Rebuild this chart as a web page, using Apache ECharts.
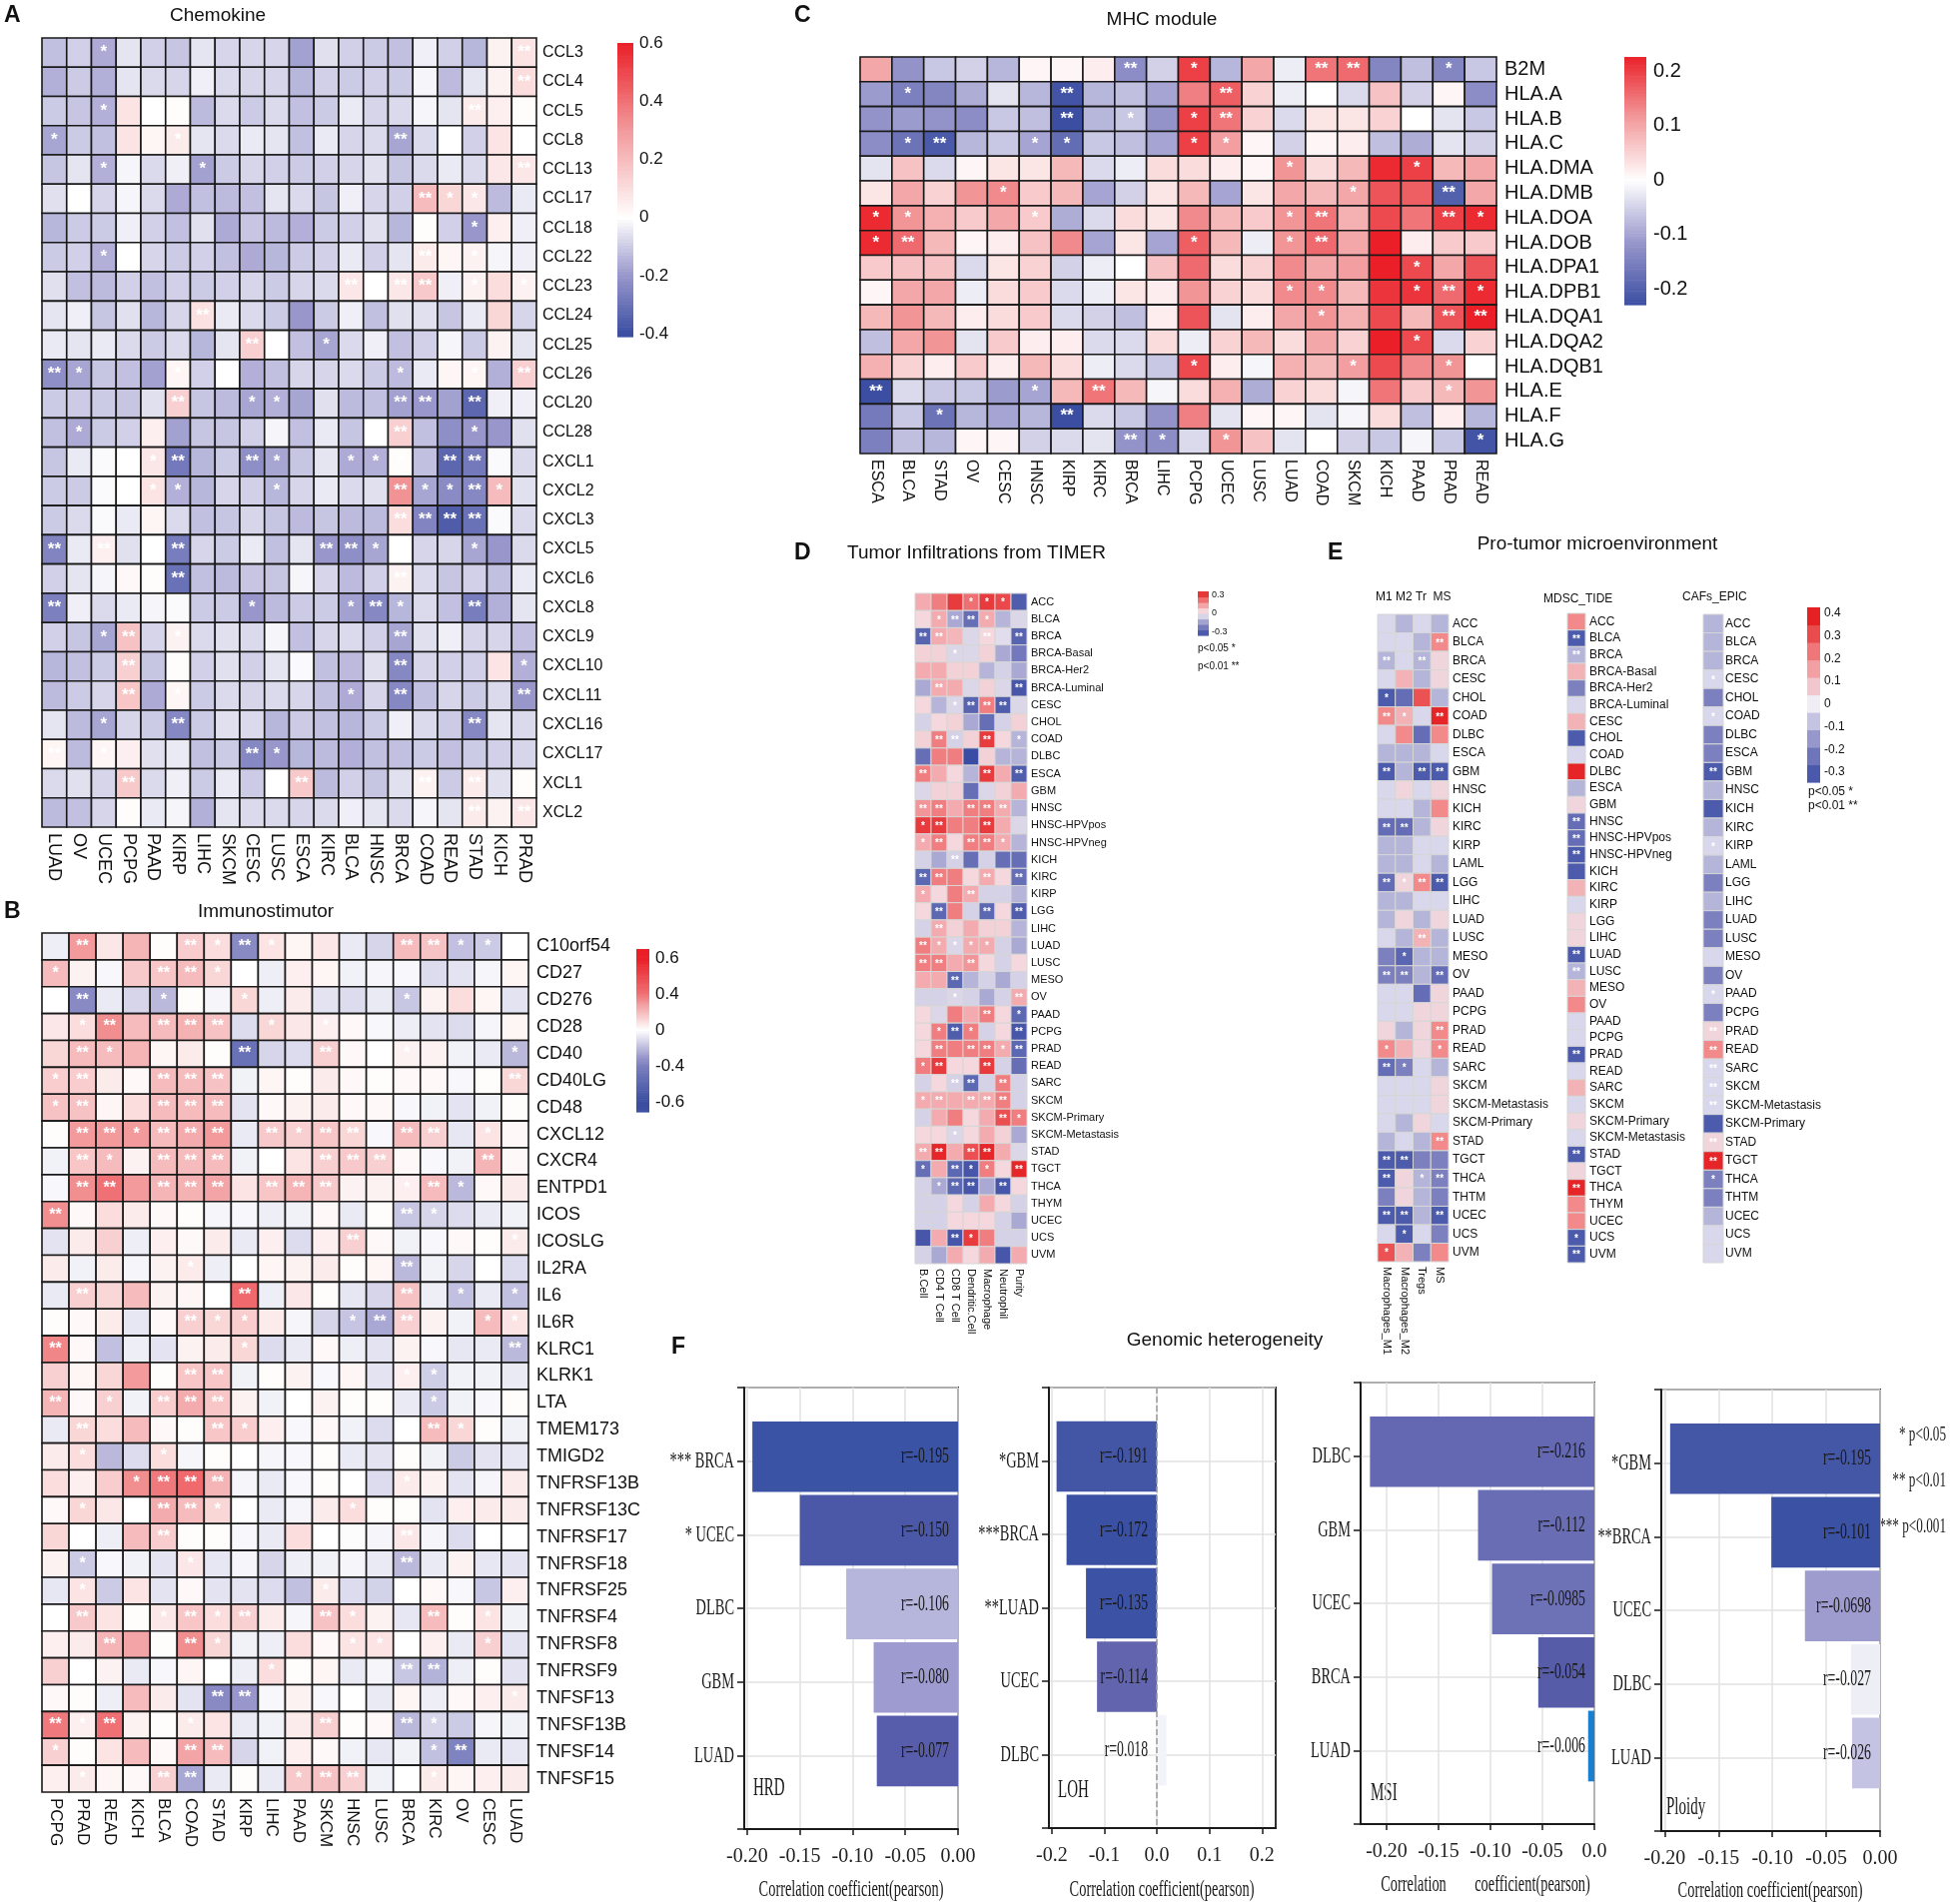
<!DOCTYPE html>
<html>
<head>
<meta charset="utf-8">
<script src="https://cdn.jsdelivr.net/npm/echarts@6/dist/echarts.min.js"></script>
<style>
html, body { margin: 0; padding: 0; background: #fff; }
#chart { width: 1955px; height: 1906px; }
</style>
</head>
<body>
<div id="chart"></div>
<script>
// ---------------- A: Chemokine ----------------
const chemoGenes = ['CCL3','CCL4','CCL5','CCL8','CCL13','CCL17','CCL18','CCL22','CCL23','CCL24','CCL25','CCL26','CCL20','CCL28',
    'CXCL1','CXCL2','CXCL3','CXCL5','CXCL6','CXCL8','CXCL9','CXCL10','CXCL11','CXCL16','CXCL17','XCL1','XCL2'];
const chemoCancers = ['LUAD','OV','UCEC','PCPG','PAAD','KIRP','LIHC','SKCM','CESC','LUSC','ESCA','KIRC','BLCA','HNSC','BRCA','COAD','READ','STAD','KICH','PRAD'];
const chemoR = [
    [-0.12,-0.09,-0.16,-0.05,-0.09,-0.11,-0.05,-0.08,-0.08,-0.08,-0.18,-0.06,-0.09,-0.10,-0.12,-0.03,-0.09,-0.14,0.04,0.08],
    [-0.15,-0.10,-0.15,-0.05,-0.07,-0.08,-0.03,-0.07,-0.08,-0.08,-0.14,-0.09,-0.10,-0.09,-0.10,-0.02,-0.13,-0.05,0.04,0.10],
    [-0.10,-0.11,-0.15,0.08,0.00,0.01,-0.13,-0.07,-0.10,-0.07,-0.12,-0.10,-0.04,-0.08,-0.07,-0.02,-0.05,0.06,0.05,0.01],
    [-0.17,-0.10,-0.12,0.08,0.03,0.06,-0.05,-0.07,-0.04,-0.05,-0.12,-0.04,-0.08,-0.07,-0.17,-0.07,0.00,-0.09,0.08,0.00],
    [-0.11,-0.05,-0.15,-0.02,-0.07,-0.03,-0.18,-0.10,-0.08,-0.09,-0.10,-0.09,-0.08,-0.06,-0.11,-0.07,-0.04,-0.07,0.07,0.07],
    [-0.06,0.00,-0.08,-0.02,-0.07,-0.16,-0.12,-0.13,-0.12,-0.05,-0.07,-0.11,-0.03,-0.08,-0.09,0.20,0.12,0.07,-0.13,-0.04],
    [-0.14,-0.10,-0.10,-0.03,-0.09,-0.12,-0.06,-0.16,-0.11,-0.13,-0.15,-0.10,-0.09,-0.06,-0.14,0.01,-0.09,-0.20,0.05,-0.03],
    [-0.10,-0.09,-0.15,0.00,-0.08,-0.10,-0.09,-0.12,-0.16,-0.14,-0.10,-0.09,-0.04,-0.09,-0.05,0.06,0.03,0.04,-0.02,-0.03],
    [-0.06,-0.12,-0.13,-0.09,-0.12,-0.09,-0.10,-0.09,-0.08,-0.10,-0.08,-0.07,0.07,0.00,0.07,0.16,-0.03,0.04,0.10,0.04],
    [-0.05,-0.03,-0.11,-0.06,-0.14,-0.08,0.09,-0.04,-0.07,-0.10,-0.20,-0.10,-0.03,-0.12,-0.06,-0.06,-0.11,-0.04,0.12,-0.08],
    [-0.04,-0.05,-0.04,-0.07,-0.10,-0.07,-0.14,-0.05,0.14,0.00,-0.12,-0.17,-0.07,-0.03,-0.12,-0.09,-0.02,-0.10,0.04,-0.05],
    [-0.22,-0.17,-0.11,-0.12,-0.18,0.03,-0.09,0.00,-0.15,-0.12,-0.08,-0.08,-0.07,-0.10,-0.13,-0.04,0.03,0.03,-0.15,0.14],
    [-0.10,-0.10,-0.10,-0.11,-0.06,0.14,-0.11,-0.13,-0.17,-0.15,-0.17,-0.06,-0.13,-0.12,-0.18,-0.20,-0.18,-0.33,-0.03,-0.03],
    [-0.12,-0.16,-0.10,-0.09,0.05,-0.18,-0.11,-0.11,-0.09,-0.02,-0.12,-0.04,-0.11,0.00,0.14,-0.12,-0.22,-0.20,-0.20,-0.06],
    [-0.11,-0.04,-0.01,0.00,0.07,-0.28,-0.14,-0.10,-0.22,-0.17,-0.11,-0.05,-0.16,-0.15,0.01,-0.12,-0.33,-0.28,-0.01,-0.07],
    [-0.10,-0.10,-0.01,0.00,0.08,-0.15,-0.14,-0.08,-0.09,-0.14,-0.08,-0.04,-0.07,-0.06,0.32,-0.17,-0.23,-0.24,0.20,-0.06],
    [-0.10,-0.07,-0.01,-0.04,0.03,-0.07,-0.12,-0.11,-0.08,-0.11,-0.13,-0.11,-0.13,-0.13,0.10,-0.25,-0.36,-0.30,-0.01,-0.07],
    [-0.25,-0.04,0.05,-0.06,0.00,-0.27,-0.08,-0.10,-0.04,-0.12,-0.05,-0.20,-0.22,-0.17,0.00,-0.08,-0.08,-0.17,-0.20,-0.07],
    [-0.09,-0.05,-0.02,0.02,0.01,-0.30,-0.12,-0.13,-0.11,-0.11,-0.02,-0.08,-0.13,-0.09,0.04,-0.07,-0.11,-0.09,-0.12,-0.04],
    [-0.26,-0.03,-0.07,-0.04,-0.02,-0.01,-0.10,-0.10,-0.20,-0.13,-0.10,-0.10,-0.18,-0.24,-0.14,-0.07,-0.12,-0.27,-0.15,-0.05],
    [-0.09,-0.11,-0.17,0.18,-0.08,0.04,-0.07,-0.06,-0.07,-0.02,-0.12,-0.08,-0.07,-0.09,-0.17,-0.06,-0.03,-0.08,-0.08,-0.12],
    [-0.14,-0.12,-0.10,0.14,-0.11,0.01,-0.09,-0.06,-0.09,-0.05,-0.01,-0.12,-0.13,-0.06,-0.24,-0.08,-0.09,-0.09,0.08,-0.15],
    [-0.13,-0.10,-0.08,0.17,-0.16,0.03,-0.10,-0.07,-0.08,-0.07,-0.08,-0.12,-0.16,-0.08,-0.24,-0.12,-0.08,-0.10,-0.07,-0.20],
    [-0.05,-0.13,-0.17,-0.08,-0.10,-0.24,-0.10,-0.06,-0.07,-0.14,-0.10,-0.12,-0.14,-0.10,-0.03,-0.07,-0.10,-0.24,-0.05,-0.07],
    [0.03,-0.13,0.03,0.05,-0.06,-0.04,-0.12,-0.10,-0.24,-0.20,-0.14,-0.13,-0.15,-0.12,-0.12,-0.10,-0.12,-0.10,-0.09,-0.08],
    [-0.07,-0.06,-0.08,0.16,-0.07,-0.03,-0.10,-0.04,-0.10,0.00,0.16,-0.13,-0.09,-0.11,-0.06,0.04,-0.10,0.06,-0.06,0.01],
    [-0.13,-0.12,-0.08,0.01,-0.04,-0.02,-0.15,-0.05,-0.07,-0.07,-0.08,-0.07,-0.03,-0.05,-0.07,-0.02,-0.05,0.06,0.04,0.07]
];
// '.' none, '1' = *, '2' = **
const chemoSig = [
    '..1................2', '...................2', '..1..............2..', '1....1........2.....',
    '..1...1............2', '...............211..', '.................1..', '..1............2.1..',
    '............2.22.1.1', '......2.............', '........2..1........', '21...1........1..1.2',
    '.....2..11....22.2..', '.1............2..1..', '....12..21..111.22..', '....11...1....21121.',
    '..............2222..', '2.2..2.....221...1..', '.....2........2.....', '2.......1...121..2..',
    '..12.1........2.....', '...2..........2....1', '...2.1......1.2....2', '..1..2...........2..',
    '2.1.....21..........', '...2......2....2.2..', '.................2.2'
];
const chemoTicks = [-0.4, -0.2, 0, 0.2, 0.4, 0.6];

// ---------------- B: Immunostimulator ----------------
const immunoGenes = ['C10orf54','CD27','CD276','CD28','CD40','CD40LG','CD48','CXCL12','CXCR4','ENTPD1','ICOS','ICOSLG','IL2RA','IL6','IL6R',
    'KLRC1','KLRK1','LTA','TMEM173','TMIGD2','TNFRSF13B','TNFRSF13C','TNFRSF17','TNFRSF18','TNFRSF25','TNFRSF4','TNFRSF8','TNFRSF9',
    'TNFSF13','TNFSF13B','TNFSF14','TNFSF15'];
const immunoCancers = ['PCPG','PRAD','READ','KICH','BLCA','COAD','STAD','KIRP','LIHC','PAAD','SKCM','HNSC','LUSC','BRCA','KIRC','OV','CESC','LUAD'];
const immunoR = [
    [-0.05,0.30,0.07,0.22,0.01,0.15,0.10,-0.35,0.08,0.03,0.07,-0.06,-0.12,0.20,0.18,-0.18,-0.15,0.00],
    [0.20,0.04,-0.02,0.16,0.17,0.20,0.12,0.00,-0.05,0.05,0.03,-0.04,-0.03,-0.02,-0.10,-0.08,-0.03,0.03],
    [0.00,-0.35,-0.06,-0.12,-0.20,0.01,-0.03,0.12,-0.05,0.06,-0.08,-0.10,-0.06,-0.16,0.04,0.10,0.03,-0.08],
    [0.07,0.10,0.33,0.20,0.20,0.23,0.18,-0.10,0.12,0.07,0.05,0.02,-0.02,-0.05,-0.08,-0.10,-0.03,0.03],
    [0.12,0.20,0.20,0.22,0.03,0.06,0.01,-0.45,-0.12,-0.10,0.14,0.02,0.00,0.04,0.04,-0.04,-0.06,-0.20],
    [0.15,0.15,0.06,0.02,0.20,0.20,0.18,-0.04,0.03,0.01,0.06,0.02,0.01,0.02,0.02,-0.02,0.01,0.12],
    [0.18,0.18,0.03,0.10,0.20,0.20,0.20,-0.08,0.02,0.04,0.06,0.02,0.02,-0.02,-0.04,-0.08,-0.04,0.01],
    [0.01,0.30,0.30,0.30,0.20,0.25,0.30,-0.06,0.16,0.14,0.17,0.12,-0.02,0.20,0.14,-0.07,0.08,0.02],
    [-0.04,0.17,0.20,0.04,0.20,0.20,0.20,-0.04,0.00,0.08,0.14,0.16,0.14,0.02,-0.02,-0.04,0.22,0.02],
    [-0.02,0.33,0.40,0.30,0.22,0.23,0.27,0.08,0.17,0.22,0.16,0.04,0.04,0.05,0.20,-0.20,0.02,0.06],
    [0.33,0.02,0.10,0.06,0.02,0.01,-0.03,-0.02,-0.05,-0.04,0.02,-0.06,0.01,-0.16,-0.12,-0.10,-0.06,-0.04],
    [-0.08,0.06,0.14,-0.05,0.05,0.02,0.06,-0.06,0.05,-0.10,0.05,0.14,0.02,-0.04,-0.02,0.02,0.01,0.06],
    [0.06,-0.04,0.06,-0.03,0.04,0.06,-0.05,0.00,0.03,0.04,0.06,0.01,0.03,-0.20,-0.04,-0.12,0.00,-0.10],
    [-0.06,0.14,0.12,0.20,0.04,0.03,0.00,0.42,-0.05,0.07,0.01,-0.07,-0.12,0.18,-0.05,-0.18,-0.06,-0.18],
    [0.01,0.02,0.06,-0.07,0.02,0.14,0.12,0.15,0.06,-0.03,-0.12,-0.17,-0.25,0.14,0.04,-0.04,0.20,0.08],
    [0.35,0.02,-0.18,-0.05,-0.08,0.04,0.06,0.12,-0.10,-0.06,0.02,-0.05,-0.08,0.04,-0.02,-0.07,-0.06,-0.20],
    [0.14,0.03,0.12,0.30,0.01,0.17,0.17,-0.04,0.01,0.04,-0.02,0.03,-0.08,0.05,-0.14,-0.04,-0.04,-0.06],
    [0.22,0.02,0.14,-0.04,0.15,0.25,0.17,0.04,-0.04,0.00,0.04,0.01,0.01,-0.06,-0.15,-0.04,-0.02,0.01],
    [-0.06,0.12,0.10,0.20,0.02,0.01,0.17,0.15,0.05,-0.02,0.02,-0.04,-0.10,0.00,0.20,0.12,0.01,-0.04],
    [0.06,0.10,-0.20,-0.10,0.10,-0.03,0.01,0.00,-0.03,-0.02,0.01,-0.06,-0.08,0.01,-0.04,-0.15,-0.08,-0.07],
    [0.10,0.05,0.15,0.33,0.38,0.42,0.22,-0.03,-0.06,-0.02,0.01,0.00,-0.10,0.06,0.04,-0.08,-0.03,0.06],
    [0.02,0.12,0.07,0.00,0.25,0.20,0.12,0.00,-0.06,-0.03,0.06,0.10,0.01,0.01,-0.08,0.05,0.06,0.06],
    [0.12,0.00,-0.05,0.20,0.15,0.01,0.01,-0.02,-0.06,0.10,0.00,-0.01,-0.03,0.07,-0.03,-0.10,0.00,0.00],
    [0.04,-0.15,-0.02,-0.04,-0.08,0.07,-0.07,-0.03,-0.12,-0.05,-0.04,-0.03,-0.06,-0.20,-0.06,0.04,-0.07,-0.08],
    [-0.07,0.08,-0.15,0.08,-0.08,0.02,-0.08,-0.08,-0.10,-0.18,0.06,-0.10,-0.13,0.00,0.02,-0.02,-0.16,0.05],
    [0.00,0.16,0.08,0.01,0.07,0.17,0.10,0.14,0.06,-0.03,0.18,0.10,0.04,-0.07,0.20,0.01,0.08,-0.04],
    [0.05,0.06,0.22,0.27,0.01,0.33,0.12,-0.04,-0.05,0.10,0.02,0.08,0.08,0.00,0.05,-0.06,0.14,-0.08],
    [0.14,0.00,0.04,-0.06,-0.02,0.03,0.00,-0.05,0.10,0.01,0.03,-0.06,-0.03,-0.16,-0.22,-0.05,0.01,-0.08],
    [0.02,0.01,-0.05,0.20,0.06,-0.08,-0.35,-0.30,-0.02,0.04,-0.02,0.00,-0.06,0.03,-0.05,0.02,0.05,0.06],
    [0.38,0.05,0.40,0.04,0.01,0.06,0.08,-0.06,-0.04,0.06,0.14,0.01,0.02,-0.20,-0.12,-0.15,-0.03,-0.04],
    [0.14,0.01,0.08,0.20,0.02,0.27,0.20,-0.12,-0.04,0.05,0.02,-0.04,-0.07,-0.04,-0.18,-0.38,-0.06,-0.07],
    [0.05,0.06,0.03,0.02,0.14,-0.25,-0.06,0.01,-0.06,0.16,0.18,0.14,-0.04,0.00,0.06,0.03,0.05,0.06]
];
const immunoSig = [
    '.2...2121....2211.', '1...221...........', '.2..1..1.....1....', '.12.222.1.1.......',
    '.21....2..2..1...1', '12..222..........2', '12..222...........', '.221222.2122.22.1.',
    '.21.222...222...2.', '.22.222.222..121..', '2............21...', '...........2.....1',
    '.....1.......2....', '.2.....2.....2.1.1', '.....211...122..11', '2......1.........2',
    '.....22......11...', '2.1.222.......1...', '.2....21......21..', '.1..1.............',
    '...1222......1....', '.1..221....1......', '....2........2....', '.1...1.......2....',
    '.1........1.......', '.2..1212..21..2.1.', '..2..21....11...1.', '........1....22...',
    '......22.........1', '212..1....2..21...', '1....22.......12..', '.1..22...122..1...'
];
const immunoTicks = ['-0.6', '-0.4', '0', '0.4', '0.6'];
const immunoTickValues = [-0.6, -0.4, 0, 0.4, 0.6];

// ---------------- C: MHC module ----------------
const mhcGenes = ['B2M','HLA.A','HLA.B','HLA.C','HLA.DMA','HLA.DMB','HLA.DOA','HLA.DOB','HLA.DPA1','HLA.DPB1','HLA.DQA1','HLA.DQA2','HLA.DQB1','HLA.E','HLA.F','HLA.G'];
const mhcCancers = ['ESCA','BLCA','STAD','OV','CESC','HNSC','KIRP','KIRC','BRCA','LIHC','PCPG','UCEC','LUSC','LUAD','COAD','SKCM','KICH','PAAD','PRAD','READ'];
const mhcR = [
    [0.10,-0.12,-0.06,-0.05,-0.08,0.01,0.01,0.02,-0.13,-0.05,0.20,-0.08,0.10,-0.02,0.15,0.16,-0.14,-0.07,-0.14,-0.06],
    [-0.11,-0.15,-0.14,-0.09,-0.03,-0.08,-0.22,-0.08,-0.07,-0.10,0.14,0.17,0.05,-0.02,0.00,-0.04,0.07,-0.05,0.01,-0.13],
    [-0.12,-0.11,-0.12,-0.13,-0.06,-0.07,-0.24,-0.08,-0.06,-0.12,0.20,0.15,0.05,-0.04,0.03,0.03,0.05,0.00,-0.03,-0.06],
    [-0.13,-0.17,-0.21,-0.08,-0.06,-0.10,-0.18,-0.06,-0.07,-0.10,0.20,0.11,0.01,-0.05,0.01,0.02,-0.07,-0.09,-0.03,-0.05],
    [-0.03,0.07,-0.04,0.01,0.03,0.03,0.08,-0.04,-0.02,0.04,0.04,0.02,0.01,0.12,0.04,0.08,0.22,0.20,0.08,0.10],
    [0.03,0.10,0.05,0.12,0.13,0.06,0.08,-0.10,-0.05,0.03,0.08,-0.10,0.03,0.10,0.08,0.10,0.18,0.17,-0.20,0.10],
    [0.22,0.12,0.09,0.06,0.10,0.06,-0.09,-0.04,0.04,0.03,0.13,0.08,0.06,0.12,0.15,0.09,0.19,0.15,0.20,0.22],
    [0.22,0.16,0.08,0.01,0.02,0.07,0.13,-0.10,0.03,-0.10,0.17,0.08,-0.02,0.12,0.16,0.10,0.23,0.02,0.06,0.06],
    [0.06,0.07,0.07,-0.04,0.03,0.05,-0.05,-0.02,0.00,0.07,0.16,0.04,0.05,0.13,0.10,0.11,0.23,0.19,0.10,0.18],
    [0.01,0.10,0.10,-0.02,0.04,0.06,-0.04,-0.02,0.03,0.02,0.12,0.05,0.04,0.13,0.13,0.08,0.21,0.21,0.16,0.22],
    [0.08,0.12,0.08,0.02,0.04,0.06,-0.04,-0.05,-0.07,0.02,0.18,-0.03,0.02,0.10,0.12,0.09,0.19,0.08,0.18,0.23],
    [-0.07,0.10,0.12,-0.03,0.06,0.02,0.02,-0.04,-0.04,0.04,-0.02,0.05,0.08,0.04,0.10,0.05,0.23,0.19,-0.04,0.05],
    [0.09,0.05,0.02,0.06,0.02,0.08,0.04,-0.02,-0.04,-0.06,0.19,0.02,-0.01,0.09,0.08,0.11,0.19,0.13,0.12,0.00],
    [-0.24,-0.04,-0.06,-0.06,-0.11,-0.10,0.08,0.15,0.08,-0.01,0.04,0.09,-0.09,0.05,0.04,-0.01,0.15,0.06,0.08,0.12],
    [-0.16,-0.06,-0.17,-0.08,-0.10,-0.08,-0.24,-0.04,-0.06,-0.12,0.14,-0.03,0.01,0.01,-0.03,-0.01,0.04,-0.07,0.02,-0.08],
    [-0.15,-0.07,-0.08,0.01,0.01,-0.05,-0.04,-0.03,-0.12,-0.13,-0.04,0.12,0.07,-0.03,0.00,-0.05,-0.06,-0.01,-0.06,-0.22]
];
const mhcSig = [
    '........2.1...22..1.', '.1....2....2........', '......2.1.12........', '.12..11...11........',
    '.............1...1..', '....1..........1..2.', '11...1.......12...21', '12........1..12.....',
    '.................1..', '.............11..121', '..............1...22', '.................1..',
    '..........1....1..1.', '2....1.2..........1.', '..1...2.............', '........21.1.......1'
];
const mhcTicks = [-0.2, -0.1, 0, 0.1, 0.2];

// ---------------- D: TIMER ----------------
const timerCancers = ['ACC','BLCA','BRCA','BRCA-Basal','BRCA-Her2','BRCA-Luminal','CESC','CHOL','COAD','DLBC','ESCA','GBM','HNSC',
    'HNSC-HPVpos','HNSC-HPVneg','KICH','KIRC','KIRP','LGG','LIHC','LUAD','LUSC','MESO','OV','PAAD','PCPG','PRAD','READ','SARC',
    'SKCM','SKCM-Primary','SKCM-Metastasis','STAD','TGCT','THCA','THYM','UCEC','UCS','UVM'];
const timerCells = ['B.Cell','CD4 T Cell','CD8 T Cell','Dendritic.Cell','Macrophage','Neutrophil','Purity'];
const timerR = [
    [0.12,0.20,0.30,0.22,0.30,0.28,-0.30], [0.04,0.12,-0.12,-0.25,0.12,-0.10,-0.04], [-0.28,0.12,0.10,-0.04,0.04,-0.03,-0.28],
    [0.05,0.05,-0.04,-0.04,0.05,-0.12,-0.22], [0.12,0.12,0.05,0.05,-0.10,-0.05,-0.12], [-0.12,0.12,0.12,-0.04,0.05,-0.04,-0.32],
    [0.04,-0.10,-0.04,-0.28,0.20,-0.30,-0.04], [-0.05,0.04,0.05,-0.12,-0.25,-0.05,0.05], [0.05,0.20,-0.05,0.05,0.30,0.04,-0.10],
    [-0.25,0.20,0.20,-0.35,0.05,-0.10,-0.10], [0.20,0.12,0.04,-0.10,0.30,0.12,-0.30], [-0.04,0.05,0.05,-0.25,-0.04,0.05,0.12],
    [0.16,0.20,0.12,0.20,0.20,0.12,-0.10], [0.30,0.30,0.20,0.20,0.30,0.12,-0.04], [0.12,0.20,0.04,0.20,0.20,0.12,-0.10],
    [-0.05,-0.12,-0.05,-0.25,-0.05,-0.25,-0.25], [-0.27,0.20,0.20,0.04,0.12,0.04,-0.25], [0.12,0.04,0.20,0.12,-0.05,-0.05,-0.10],
    [0.04,-0.27,0.20,-0.05,-0.27,0.04,-0.30], [-0.05,0.12,0.05,0.12,0.05,0.05,-0.10], [0.20,0.12,-0.04,0.12,0.12,-0.05,-0.12],
    [0.20,0.20,0.12,0.16,0.04,-0.05,0.04], [0.12,0.12,-0.27,-0.10,-0.05,-0.12,-0.05], [-0.05,-0.05,-0.04,-0.05,-0.12,-0.05,0.12],
    [0.04,-0.04,0.20,0.12,0.20,0.04,-0.27], [0.04,0.20,-0.30,0.20,-0.05,0.04,-0.32], [0.04,0.20,0.20,0.20,0.20,0.12,-0.27],
    [0.20,0.30,0.04,0.04,0.30,-0.05,-0.25], [-0.05,0.04,-0.05,-0.27,-0.05,0.20,-0.05], [0.12,0.12,0.12,0.12,0.12,0.20,-0.05],
    [-0.05,0.12,0.20,0.04,0.12,0.27,0.20], [0.04,0.04,-0.04,0.04,0.12,0.05,-0.12], [0.12,0.33,0.12,0.27,0.33,0.12,-0.04],
    [-0.25,0.12,-0.27,-0.32,0.20,0.04,0.33], [-0.05,-0.12,-0.27,-0.32,-0.12,-0.32,0.04], [-0.05,-0.05,0.04,-0.05,0.12,0.04,-0.05],
    [-0.05,-0.05,0.04,0.04,0.04,-0.05,-0.12], [-0.32,0.12,-0.32,0.30,0.20,-0.05,-0.05], [-0.05,-0.12,0.12,0.04,0.12,-0.32,0.12]
];
const timerSig = [
    '...111.', '.1221..', '22..2.2', '..1....', '.......', '.2....2', '..1222.', '.......', '.22.2.1', '.......',
    '2...2.2', '.......', '22.222.', '12..2..', '12.221.', '..2....', '22..2.2', '1..2...', '.2..2.2', '.2.....',
    '21111..', '22.2...', '..2....', '..1...2', '....2.1', '.121..2', '.2.2212', '12..2..', '..22.2.', '12.222.',
    '.....21', '..1....', '22.22..', '1.211.2', '.122.2.', '.......', '.......', '..21...', '.......'
];
const timerTicks = [-0.3, 0, 0.3];

// ---------------- E: Pro-tumor microenvironment ----------------
const proCancers = ['ACC','BLCA','BRCA','CESC','CHOL','COAD','DLBC','ESCA','GBM','HNSC','KICH','KIRC','KIRP','LAML','LGG','LIHC',
    'LUAD','LUSC','MESO','OV','PAAD','PCPG','PRAD','READ','SARC','SKCM','SKCM-Metastasis','SKCM-Primary','STAD','TGCT','THCA',
    'THTM','UCEC','UCS','UVM'];
const proCells = ['Macrophages_M1','Macrophages_M2','Tregs','MS'];
const proR = [
    [-0.04,-0.10,-0.04,-0.10], [-0.04,-0.04,-0.10,0.20], [-0.10,-0.04,-0.10,0.05], [-0.04,0.12,-0.10,0.05],
    [-0.30,-0.25,0.30,-0.10], [0.20,0.12,-0.04,0.38], [-0.04,0.20,-0.25,0.20], [-0.10,-0.10,-0.10,-0.04],
    [-0.30,-0.10,-0.30,-0.30], [-0.04,0.05,-0.04,0.05], [-0.04,-0.04,-0.10,0.20], [-0.25,-0.25,-0.10,0.05],
    [-0.10,-0.10,-0.04,-0.04], [-0.10,-0.10,-0.04,-0.10], [-0.25,0.05,0.20,-0.30], [-0.10,-0.10,-0.04,-0.04],
    [-0.10,0.05,-0.10,0.05], [-0.04,-0.10,0.12,-0.10], [-0.20,-0.27,-0.10,-0.10], [-0.20,-0.20,-0.10,-0.25],
    [-0.04,-0.04,-0.25,0.05], [-0.04,-0.04,0.05,0.05], [0.05,-0.10,0.05,0.20], [0.20,0.12,0.05,0.20],
    [-0.25,-0.20,-0.04,-0.10], [-0.04,-0.04,-0.04,0.05], [-0.04,-0.04,-0.04,0.05], [-0.04,-0.10,0.05,-0.04],
    [-0.10,-0.04,-0.10,0.20], [-0.30,-0.30,-0.20,-0.20], [-0.30,0.05,-0.10,-0.20], [-0.20,0.05,-0.10,-0.20],
    [-0.30,-0.30,-0.10,-0.30], [-0.04,-0.30,-0.04,-0.20], [0.30,0.12,-0.20,0.20]
];
const proSig = [
    '....', '...2', '2.2.', '....', '1...', '21.2', '....', '....', '2.22', '....', '....', '22..',
    '....', '....', '2122', '....', '....', '..2.', '.1..', '22.2', '....', '....', '...2', '1..1',
    '21..', '....', '....', '....', '...2', '22..', '2.12', '....', '22.2', '.1..', '1...'
];
const mdscR = [0.20,-0.30,-0.10,0.12,-0.20,-0.04,0.12,-0.30,-0.04,0.38,-0.10,0.05,-0.25,-0.25,-0.30,-0.30,0.12,-0.04,0.05,0.05,
    -0.30,-0.10,0.12,0.20,-0.04,-0.04,-0.30,-0.04,0.12,-0.04,0.05,-0.04,-0.30,0.05,0.38,0.20,0.20,-0.30,-0.30];
const mdscSig = '.22.........222.....22....2.....2.2..12';
const cafsR = [-0.10,-0.10,-0.10,-0.04,-0.20,-0.04,-0.20,-0.20,-0.30,-0.10,-0.30,-0.10,-0.04,-0.10,-0.20,-0.10,-0.20,-0.20,
    -0.04,-0.20,-0.04,-0.20,0.05,0.20,-0.04,-0.04,-0.04,-0.30,0.05,0.38,-0.20,-0.20,-0.10,-0.04,-0.04];
const cafsSig = '...1.1..2...1.......1.22222.221....';
const proTicks = [-0.3, -0.2, -0.1, 0, 0.1, 0.2, 0.3, 0.4];

// ---------------- F: Genomic heterogeneity ----------------
const hrdNames = ['BRCA','UCEC','DLBC','GBM','LUAD'];
const hrdStars = ['*** ','* ','','',''];
const hrdR = [-0.195,-0.150,-0.106,-0.080,-0.077];
const hrdText = ['r=-0.195','r=-0.150','r=-0.106','r=-0.080','r=-0.077'];
const lohNames = ['GBM','BRCA','LUAD','UCEC','DLBC'];
const lohStars = ['*','***','**','',''];
const lohR = [-0.191,-0.172,-0.135,-0.114,0.018];
const lohText = ['r=-0.191','r=-0.172','r=-0.135','r=-0.114','r=0.018'];
const msiNames = ['DLBC','GBM','UCEC','BRCA','LUAD'];
const msiStars = ['','','','',''];
const msiR = [-0.216,-0.112,-0.0985,-0.054,-0.006];
const msiText = ['r=-0.216','r=-0.112','r=-0.0985','r=-0.054','r=-0.006'];
const ploidyNames = ['GBM','BRCA','UCEC','DLBC','LUAD'];
const ploidyStars = ['*','**','','',''];
const ploidyR = [-0.195,-0.101,-0.0698,-0.027,-0.026];
const ploidyText = ['r=-0.195','r=-0.101','r=-0.0698','r=-0.027','r=-0.026'];
const ticks005 = [-0.2, -0.15, -0.1, -0.05, 0];
const ticks01 = [-0.2, -0.1, 0, 0.1, 0.2];

// ---------------- styles ----------------
const SANS = "'Liberation Sans', Arial, sans-serif";
const SERIF = "'Liberation Serif', 'Times New Roman', serif";
const NARROW = 0.6;   // the serif texts of panel F are drawn condensed
const palA = [[-0.4,'#3b4ea2'],[-0.2,'#9896cb'],[0,'#ffffff'],[0.3,'#f29a9c'],[0.6,'#ea1f27']];
const palB = [[-0.6,'#3b4ea2'],[-0.3,'#9896cb'],[0,'#ffffff'],[0.3,'#f29a9c'],[0.6,'#ea1f27']];
const palC = [[-0.23,'#3b4ea2'],[-0.115,'#9896cb'],[0,'#ffffff'],[0.115,'#f29a9c'],[0.23,'#ea1f27']];
const palD = [[-0.35,'#3a4ca4'],[-0.18,'#8587c3'],[0,'#f4eef4'],[0.18,'#f28a8c'],[0.35,'#e41a1c']];
const palE = [[-0.34,'#3a4ca4'],[-0.18,'#8587c3'],[0,'#f1eef6'],[0.2,'#f28a8c'],[0.4,'#e41a1c']];
const hrdColors = ['#3a53a4','#4b58a7','#b6b5dc','#9d9bcf','#585dab'];
const lohColors = ['#4356a6','#3a51a3','#3c52a4','#6264ae','#f3f3fa'];
const msiColors = ['#6468b2','#696db4','#6d71b6','#575ca9','#1b7fd0'];
const ploidyColors = ['#4457a7','#3b51a3','#9e9bcf','#eeeef7','#c4c3e3'];

function hexRgb(h) {
    return [1, 3, 5].map(i => parseInt(h.slice(i, i + 2), 16));
}
function colorAt(pal, v) {
    if (v <= pal[0][0]) return pal[0][1];
    if (v >= pal[pal.length - 1][0]) return pal[pal.length - 1][1];
    for (let i = 1; i < pal.length; i++) {
        if (v <= pal[i][0]) {
            let t = (v - pal[i - 1][0]) / (pal[i][0] - pal[i - 1][0]);
            let a = hexRgb(pal[i - 1][1]), b = hexRgb(pal[i][1]);
            return 'rgb(' + a.map((x, j) => Math.round(x + (b[j] - x) * t)).join(',') + ')';
        }
    }
}

const grids = [], xAxes = [], yAxes = [], series = [];

function cellRender(o) {
    return function (params, api) {
        let c = api.coord([api.value(0), api.value(1)]);
        let s = api.size([1, 1]);
        let k = api.value(3);
        let kids = [{
            type: 'rect',
            shape: {x: c[0] - s[0] / 2, y: c[1] - s[1] / 2, width: s[0], height: s[1]},
            style: {fill: colorAt(o.pal, api.value(2)), stroke: o.stroke, lineWidth: o.lw}
        }];
        if (k > 0) {
            kids.push({
                type: 'text', x: c[0], y: c[1] + (o.starDy || 0),
                style: {text: k === 2 ? '**' : '*', fill: '#fff', font: o.starFont,
                    align: 'center', verticalAlign: 'middle', textAlign: 'center', textVerticalAlign: 'middle'}
            });
        }
        return {type: 'group', children: kids};
    };
}

function heatmap(o) {
    let gi = grids.push({left: o.left, top: o.top, width: o.width, height: o.height, outerBoundsMode: 'none'}) - 1;
    let xi = xAxes.push({
        type: 'category', gridIndex: gi, data: o.cols, position: 'bottom',
        axisLine: {show: false}, axisTick: {show: false}, splitLine: {show: false},
        axisLabel: {show: o.showCols !== false, interval: 0, rotate: -90, margin: o.colGap,
            fontSize: o.colFont, fontFamily: SANS, color: '#111'}
    }) - 1;
    let yi = yAxes.push({
        type: 'category', gridIndex: gi, data: o.rows, inverse: true, position: 'right',
        axisLine: {show: false}, axisTick: {show: false}, splitLine: {show: false},
        axisLabel: {interval: 0, margin: o.rowGap, fontSize: o.rowFont, fontFamily: SANS, color: '#111'}
    }) - 1;
    let data = [];
    o.vals.forEach((row, r) => row.forEach((v, c) => data.push([c, r, v, Number(o.sig[r][c]) || 0])));
    series.push({type: 'custom', xAxisIndex: xi, yAxisIndex: yi, data: data, encode: {x: 0, y: 1},
        renderItem: cellRender(o), silent: true});
}

function colorbar(o) {
    let gi = grids.push({left: o.left, top: o.top, width: o.width, height: o.height, outerBoundsMode: 'none'}) - 1;
    let xi = xAxes.push({type: 'category', gridIndex: gi, data: [''], show: false}) - 1;
    let yi = yAxes.push({
        type: 'value', gridIndex: gi, min: o.min, max: o.max, position: 'right',
        axisLine: {show: false}, axisTick: {show: false}, splitLine: {show: false},
        axisLabel: {customValues: o.ticks, formatter: o.fmt, margin: o.gap, fontSize: o.font, fontFamily: SANS, color: '#111'}
    }) - 1;
    series.push({
        type: 'custom', xAxisIndex: xi, yAxisIndex: yi, data: [[0, 0]], encode: {x: 0, y: 1}, silent: true,
        renderItem: function (params, api) {
            let w = api.size([1, 0])[0];
            let cx = api.coord([0, o.min])[0];
            let kids = [];
            for (let i = 0; i < o.steps; i++) {
                let a = o.min + (o.max - o.min) * i / o.steps;
                let b = o.min + (o.max - o.min) * (i + 1) / o.steps;
                let pa = api.coord([0, a]), pb = api.coord([0, b]);
                let v = o.toVal ? o.toVal((a + b) / 2) : (a + b) / 2;
                kids.push({type: 'rect',
                    shape: {x: cx - w / 2, y: Math.min(pa[1], pb[1]), width: w, height: Math.abs(pa[1] - pb[1]) + 0.6},
                    style: {fill: colorAt(o.pal, v)}});
            }
            return {type: 'group', children: kids};
        }
    });
}

function serifText(text, x, y, size, align) {
    return {type: 'text', x: x, y: y, scaleX: NARROW,
        style: {text: text, fill: '#1a1a1a', font: size + 'px ' + SERIF,
            align: align, verticalAlign: 'middle', textAlign: align, textVerticalAlign: 'middle'}};
}

function fPanel(o) {
    let gi = grids.push({left: o.left, top: o.top, width: o.width, height: o.height, outerBoundsMode: 'none',
        show: true, borderColor: '#1a1a1a', borderWidth: 1.8}) - 1;
    let xi = xAxes.push({
        type: 'value', gridIndex: gi, min: o.min, max: o.max, position: 'bottom',
        axisLine: {show: true, onZero: false, lineStyle: {color: '#1a1a1a', width: 1.8}},
        axisTick: {show: true, length: 6, customValues: o.ticks, lineStyle: {color: '#1a1a1a', width: 1.5}},
        axisLabel: {customValues: o.ticks, formatter: o.fmt, margin: 18, fontSize: 20, fontFamily: SERIF, color: '#222'},
        splitLine: {show: true, lineStyle: {color: '#e2e2e2', width: 1.5}}
    }) - 1;
    let yi = yAxes.push({
        type: 'value', gridIndex: gi, inverse: true, min: 0, max: 6, interval: 1,
        axisLine: {show: true, onZero: false, lineStyle: {color: '#1a1a1a', width: 1.8}},
        axisTick: {show: true, length: 7, lineStyle: {color: '#1a1a1a', width: 1.5}},
        axisLabel: {show: false},
        splitLine: {show: true, lineStyle: {color: '#e2e2e2', width: 1.5}}
    }) - 1;
    let s = {
        type: 'custom', xAxisIndex: xi, yAxisIndex: yi, silent: true,
        data: o.r.map((v, i) => [v, i + 1]), encode: {x: 0, y: 1},
        renderItem: function (params, api) {
            let i = params.dataIndex;
            let v = api.value(0), kc = api.value(1), k = kc - 0.06;
            let a = api.coord([0, k - 0.48]), b = api.coord([v, k + 0.48]);
            let z = api.coord([0, k]);
            let lab = api.coord([o.min, kc]);
            return {type: 'group', children: [
                {type: 'rect', shape: {x: Math.min(a[0], b[0]), y: Math.min(a[1], b[1]),
                    width: Math.abs(b[0] - a[0]), height: Math.abs(b[1] - a[1])},
                    style: {fill: o.colors[i]}},
                serifText(o.text[i], z[0] - 9, z[1], 23, 'right'),
                serifText(o.stars[i] + o.names[i], lab[0] - 10, lab[1], 24, 'right')
            ]};
        }
    };
    if (o.zeroLine) {
        s.markLine = {symbol: 'none', silent: true, label: {show: false},
            lineStyle: {type: 'dashed', color: '#9a9a9a', width: 1.5}, data: [{xAxis: 0}]};
    }
    series.push(s);
}

// ---- A ----
heatmap({left: 42, top: 38, width: 495, height: 790, cols: chemoCancers, rows: chemoGenes, vals: chemoR, sig: chemoSig,
    pal: palA, stroke: '#1a1a1a', lw: 1.6, starFont: 'bold 17px ' + SANS, colFont: 18, rowFont: 16, colGap: 6, rowGap: 6});
colorbar({left: 618, top: 43, width: 16, height: 294, min: -0.41, max: 0.6, ticks: chemoTicks, pal: palA, steps: 90, font: 17, gap: 6});
// ---- B ----
heatmap({left: 42, top: 934, width: 487, height: 860, cols: immunoCancers, rows: immunoGenes, vals: immunoR, sig: immunoSig,
    pal: palB, stroke: '#1a1a1a', lw: 1.6, starFont: 'bold 16px ' + SANS, colFont: 17, rowFont: 18, colGap: 6, rowGap: 8});
colorbar({left: 637, top: 950, width: 13, height: 163, min: -0.28, max: 4.25, ticks: [0, 1, 2, 3, 4],
    fmt: v => immunoTicks[Math.round(v)], pal: palB, steps: 90, font: 17, gap: 6,
    toVal: t => {
        if (t <= 0) return immunoTickValues[0];
        if (t >= 4) return immunoTickValues[4];
        let i = Math.floor(t);
        return immunoTickValues[i] + (immunoTickValues[i + 1] - immunoTickValues[i]) * (t - i);
    }});
// ---- C ----
heatmap({left: 861, top: 57, width: 637, height: 397, cols: mhcCancers, rows: mhcGenes, vals: mhcR, sig: mhcSig,
    pal: palC, stroke: '#1a1a1a', lw: 1.6, starFont: 'bold 17px ' + SANS, colFont: 16, rowFont: 20, colGap: 6, rowGap: 8});
colorbar({left: 1626, top: 57, width: 22, height: 248, min: -0.229, max: 0.226, ticks: mhcTicks, pal: palC, steps: 90, font: 20, gap: 7});
// ---- D ----
heatmap({left: 916, top: 594, width: 112, height: 671, cols: timerCells, rows: timerCancers, vals: timerR, sig: timerSig,
    pal: palD, stroke: '#d6d6d6', lw: 1, starFont: 'bold 10px ' + SANS, starDy: 1, colFont: 11, rowFont: 11, colGap: 5, rowGap: 4});
colorbar({left: 1199, top: 592, width: 11, height: 44, min: -0.35, max: 0.35, ticks: timerTicks, pal: palD, steps: 8, font: 9, gap: 3});
// ---- E ----
heatmap({left: 1379, top: 615, width: 71, height: 648, cols: proCells, rows: proCancers, vals: proR, sig: proSig,
    pal: palE, stroke: '#d6d6d6', lw: 1, starFont: 'bold 10px ' + SANS, starDy: 1, colFont: 11, rowFont: 12, colGap: 5, rowGap: 4});
heatmap({left: 1569, top: 614, width: 18, height: 650, cols: ['MDSC_TIDE'], rows: timerCancers, vals: mdscR.map(v => [v]),
    sig: mdscSig.split(''), showCols: false, pal: palE, stroke: '#d6d6d6', lw: 1, starFont: 'bold 10px ' + SANS, starDy: 1,
    colFont: 11, rowFont: 12, colGap: 5, rowGap: 4});
heatmap({left: 1705, top: 615, width: 20, height: 649, cols: ['CAFs_EPIC'], rows: proCancers, vals: cafsR.map(v => [v]),
    sig: cafsSig.split(''), showCols: false, pal: palE, stroke: '#d6d6d6', lw: 1, starFont: 'bold 10px ' + SANS, starDy: 1,
    colFont: 11, rowFont: 12, colGap: 5, rowGap: 2});
colorbar({left: 1809, top: 608, width: 13, height: 175, min: -0.344, max: 0.426, ticks: proTicks, pal: palE, steps: 10, font: 12, gap: 4});
// ---- F ----
const fmt2 = v => v.toFixed(2);
fPanel({left: 745, top: 1389, width: 214, height: 442, min: -0.2027, max: 0, ticks: ticks005, fmt: fmt2,
    names: hrdNames, stars: hrdStars, r: hrdR, text: hrdText, colors: hrdColors});
fPanel({left: 1050, top: 1389, width: 227, height: 441, min: -0.2055, max: 0.226, ticks: ticks01, fmt: v => v.toFixed(1),
    names: lohNames, stars: lohStars, r: lohR, text: lohText, colors: lohColors, zeroLine: true});
fPanel({left: 1362, top: 1384, width: 234, height: 442, min: -0.225, max: 0, ticks: ticks005,
    fmt: v => (v === 0 ? '0.0' : v.toFixed(2)),
    names: msiNames, stars: msiStars, r: msiR, text: msiText, colors: msiColors});
fPanel({left: 1663, top: 1391, width: 219, height: 442, min: -0.2032, max: 0, ticks: ticks005, fmt: fmt2,
    names: ploidyNames, stars: ploidyStars, r: ploidyR, text: ploidyText, colors: ploidyColors});

// ---- free text ----
const labels = [
    {t: 'A', x: 4, y: 16, s: 23, w: 'bold'},
    {t: 'Chemokine', x: 218, y: 16, s: 19, a: 'center'},
    {t: 'B', x: 4, y: 913, s: 23, w: 'bold'},
    {t: 'Immunostimutor', x: 266, y: 913, s: 19, a: 'center'},
    {t: 'C', x: 795, y: 16, s: 23, w: 'bold'},
    {t: 'MHC module', x: 1163, y: 20, s: 19, a: 'center'},
    {t: 'D', x: 795, y: 554, s: 23, w: 'bold'},
    {t: 'Tumor Infiltrations from TIMER', x: 848, y: 554, s: 19},
    {t: 'p<0.05 *', x: 1199, y: 649, s: 10},
    {t: 'p<0.01 **', x: 1199, y: 667, s: 10},
    {t: 'E', x: 1329, y: 554, s: 23, w: 'bold'},
    {t: 'Pro-tumor microenvironment', x: 1599, y: 545, s: 19, a: 'center'},
    {t: 'M1 M2 Tr  MS', x: 1377, y: 598, s: 12},
    {t: 'MDSC_TIDE', x: 1545, y: 600, s: 12},
    {t: 'CAFs_EPIC', x: 1684, y: 598, s: 12},
    {t: 'p<0.05 *', x: 1810, y: 793, s: 12},
    {t: 'p<0.01 **', x: 1810, y: 807, s: 12},
    {t: 'F', x: 672, y: 1349, s: 23, w: 'bold'},
    {t: 'Genomic heterogeneity', x: 1226, y: 1342, s: 19, a: 'center'}
];
const fLabels = [
    ['HRD', 754, 1790, 25, 'left'], ['LOH', 1059, 1792, 25, 'left'], ['MSI', 1372, 1795, 25, 'left'], ['Ploidy', 1668, 1809, 25, 'left'],
    ['Correlation coefficient(pearson)', 852, 1892, 24, 'center'],
    ['Correlation coefficient(pearson)', 1163, 1892, 24, 'center'],
    ['Correlation', 1415, 1887, 24, 'center'], ['coefficient(pearson)', 1534, 1887, 24, 'center'],
    ['Correlation coefficient(pearson)', 1772, 1893, 24, 'center'],
    ['* p<0.05', 1948, 1436, 22, 'right'], ['** p<0.01', 1948, 1482, 22, 'right'], ['*** p<0.001', 1948, 1528, 22, 'right']
];

let option = {
    animation: false,
    backgroundColor: '#ffffff',
    grid: grids,
    xAxis: xAxes,
    yAxis: yAxes,
    series: series,
    graphic: {elements: labels.map(l => ({
        type: 'text', x: l.x, y: l.y, silent: true,
        style: {text: l.t, fill: '#111', font: (l.w || 'normal') + ' ' + l.s + 'px ' + (l.f || SANS),
            align: l.a || 'left', textAlign: l.a || 'left', verticalAlign: 'middle', textVerticalAlign: 'middle'}
    })).concat(fLabels.map(l => Object.assign(serifText(l[0], l[1], l[2], l[3], l[4]), {silent: true})))}
};

let chart = echarts.init(document.getElementById('chart'));
chart.setOption(option);
</script>
</body>
</html>
